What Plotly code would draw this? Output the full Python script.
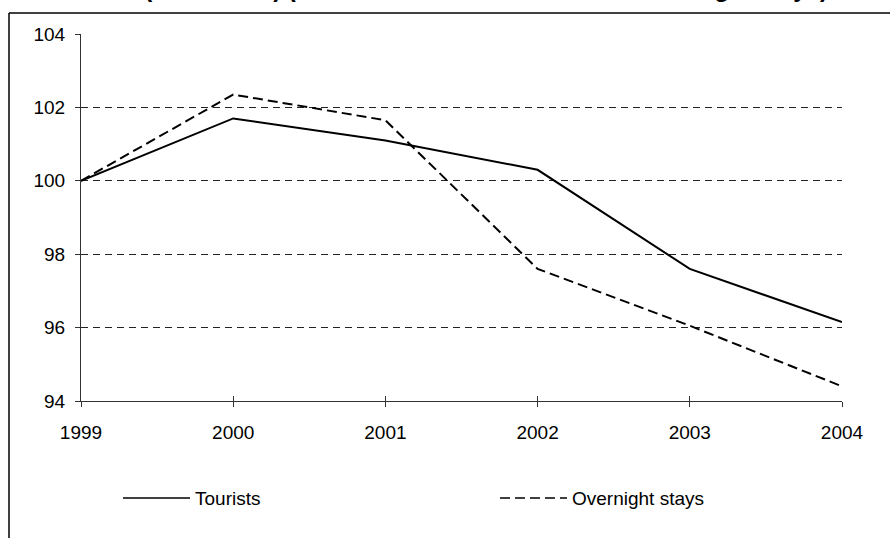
import plotly.graph_objects as go

years = [1999, 2000, 2001, 2002, 2003, 2004]
tourists = [100.0, 101.7, 101.1, 100.3, 97.6, 96.15]
overnight_stays = [100.0, 102.35, 101.65, 97.6, 96.05, 94.4]
y_ticks = [94, 96, 98, 100, 102, 104]

title_text = "Index (1999 = 100) (number of tourist arrivals and overnight stays)"
series_names = ["Tourists", "Overnight stays"]

W, H = 890, 538
L, R, T, B = 81, 48, 34, 137
pw, ph = W - L - R, H - T - B


def px(x):
    return (x - L) / pw


def py(y):
    return (H - B - y) / ph


FONT = "Arial, Liberation Sans, sans-serif"

fig = go.Figure()
fig.add_trace(go.Scatter(x=years, y=tourists, mode="lines", name=series_names[0],
                         line=dict(color="black", width=2)))
fig.add_trace(go.Scatter(x=years, y=overnight_stays, mode="lines", name=series_names[1],
                         line=dict(color="black", width=2, dash="10px,5px")))

axis_common = dict(showline=True, linecolor="#333", linewidth=1, mirror=False,
                   zeroline=False, tickcolor="#333", tickwidth=1,
                   tickfont=dict(family=FONT, size=19, color="black"))

fig.update_layout(
    width=W, height=H,
    margin=dict(l=L, r=R, t=T, b=B),
    paper_bgcolor="white", plot_bgcolor="white",
    showlegend=False,
    xaxis=dict(range=[1999, 2004], tickvals=years, ticktext=[str(y) for y in years],
               ticks="outside", ticklen=5, showgrid=False,
               ticklabelstandoff=9, **axis_common),
    xaxis2=dict(range=[1999, 2004], tickvals=years, overlaying="x", ticks="inside",
                ticklen=5, tickcolor="#333", showticklabels=False, showgrid=False,
                showline=False, zeroline=False),
    yaxis=dict(range=[94, 104], tickvals=y_ticks, ticks="outside", ticklen=5,
               showgrid=True, gridcolor="#222", gridwidth=1, griddash="7px,5px",
               ticklabelstandoff=6, **axis_common),
)

# invisible trace so the overlay axis with inner tick marks is drawn
fig.add_trace(go.Scatter(x=[years[0]], y=[y_ticks[0]], xaxis="x2", mode="markers",
                         marker=dict(opacity=0), hoverinfo="skip", showlegend=False))

# chart area border (left and top edges)
fig.add_shape(type="line", xref="paper", yref="paper",
              x0=px(9), x1=px(9), y0=py(13), y1=py(545),
              line=dict(color="black", width=1.5))
fig.add_shape(type="line", xref="paper", yref="paper",
              x0=px(9), x1=px(900), y0=py(13), y1=py(13),
              line=dict(color="black", width=1.5))

# title sitting above the top edge of the page
fig.add_annotation(text="<b>" + title_text + "</b>", xref="paper", yref="paper",
                   x=px(451), y=py(-11.5), xanchor="center", yanchor="middle",
                   showarrow=False, font=dict(family=FONT, size=24, color="black"))

# legend drawn below the axis
legend_y = py(498)
fig.add_shape(type="line", xref="paper", yref="paper", x0=px(123), x1=px(190),
              y0=legend_y, y1=legend_y, line=dict(color="black", width=1.5))
fig.add_shape(type="line", xref="paper", yref="paper", x0=px(500), x1=px(567),
              y0=legend_y, y1=legend_y, line=dict(color="black", width=1.5, dash="10px,5px"))
fig.add_annotation(text=series_names[0], xref="paper", yref="paper", x=px(193), y=legend_y,
                   xanchor="left", yanchor="middle", showarrow=False,
                   font=dict(family=FONT, size=19, color="black"))
fig.add_annotation(text=series_names[1], xref="paper", yref="paper", x=px(570), y=legend_y,
                   xanchor="left", yanchor="middle", showarrow=False,
                   font=dict(family=FONT, size=19, color="black"))

fig.write_html("out.html")
